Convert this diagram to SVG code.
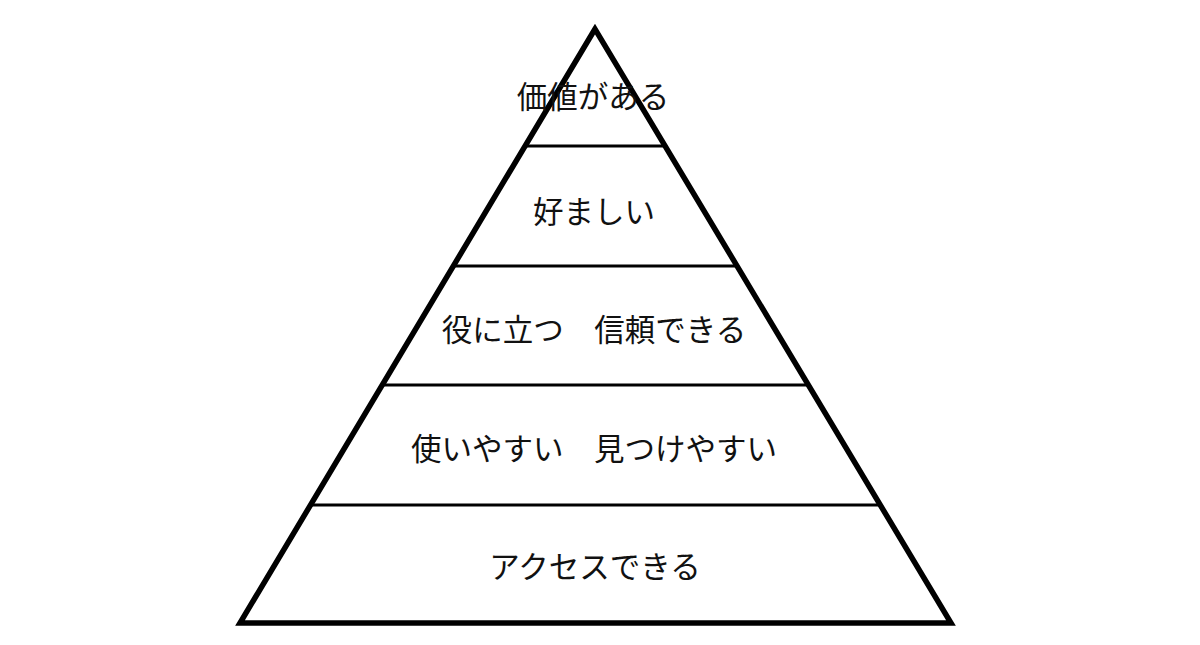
<svg xmlns="http://www.w3.org/2000/svg" width="1200" height="645" viewBox="0 0 1200 645">
<style>
.t{font-family:"Noto Sans CJK JP","Noto Sans",sans-serif;font-size:30.5px;font-weight:400;fill:#111;text-anchor:middle}
.div{stroke:#000;stroke-width:3;fill:none}
</style>
<rect width="1200" height="645" fill="#fff"/>
<g id="pyramid">
<polygon points="595,29 240,623 951,623" fill="#fff" stroke="#000" stroke-width="5.5" stroke-linejoin="miter"/>
</g>
<g id="dividers">
<line class="div" x1="524" y1="146" x2="666" y2="146"/>
<line class="div" x1="453" y1="266" x2="737" y2="266"/>
<line class="div" x1="381" y1="385" x2="809" y2="385"/>
<line class="div" x1="310" y1="505" x2="880" y2="505"/>
</g>
<g id="level5"><text class="t" x="593" y="108">価値がある</text></g>
<g id="level4"><text class="t" x="594" y="223">好ましい</text></g>
<g id="level3"><text class="t" x="594" y="341">役に立つ　信頼できる</text></g>
<g id="level2"><text class="t" x="594" y="460">使いやすい　見つけやすい</text></g>
<g id="level1"><text class="t" x="595" y="578">アクセスできる</text></g>
</svg>
